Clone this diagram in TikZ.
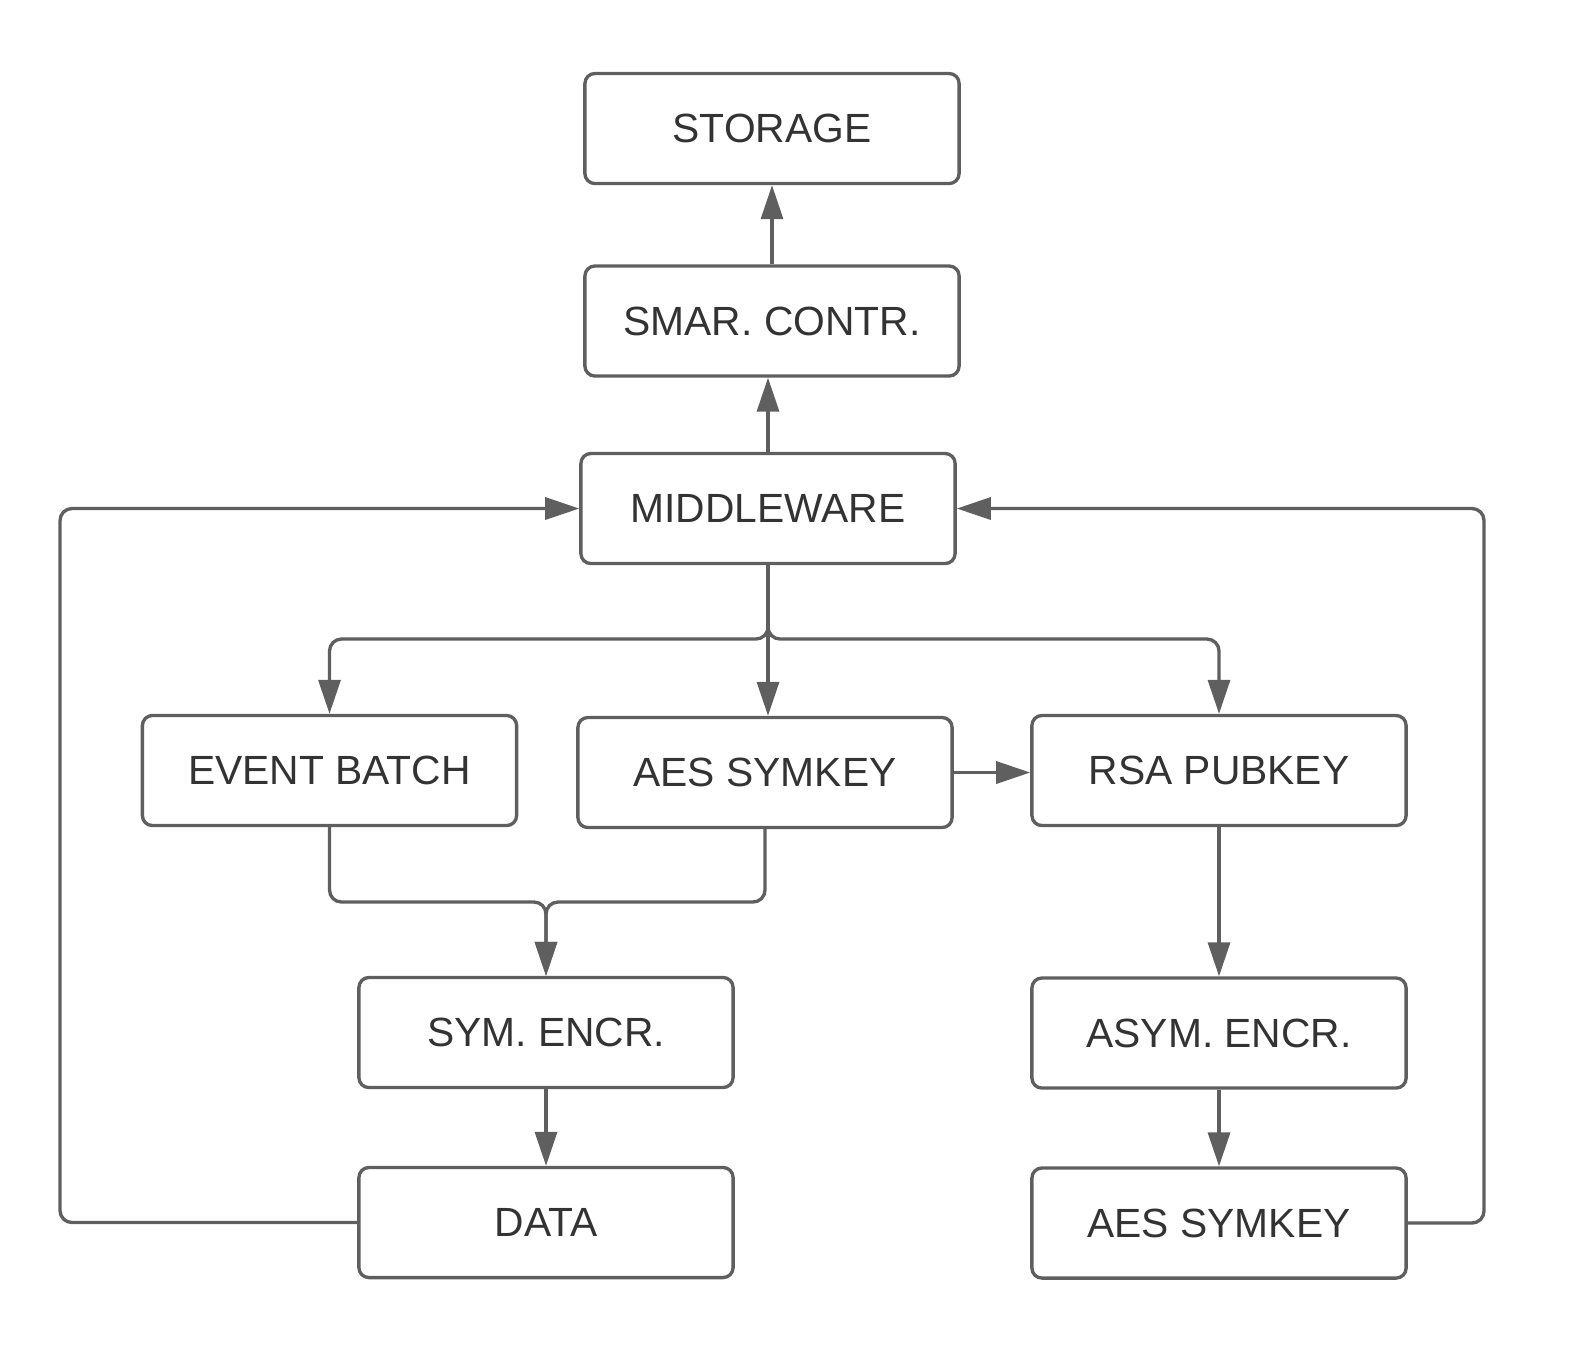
\documentclass[tikz,border=0pt]{standalone}
\usepackage{fontspec}
\setmainfont{Liberation Sans}
\usetikzlibrary{arrows.meta}
\definecolor{linegray}{HTML}{5F5F5F}
\definecolor{textgray}{HTML}{333333}
\begin{document}
\begin{tikzpicture}[x=0.01cm,y=-0.01cm]

        \useasboundingbox (0,0) rectangle (1577,1356);

        \begin{scope}[every node/.style={draw=linegray, line width=0.95pt, rounded corners=0.1cm,
            minimum width=3.74cm, minimum height=1.1cm, inner sep=0pt,
            text=textgray, font=\fontsize{11.6}{14}\selectfont}]
          \node (storage) at (772,128.5)  {STORAGE};
          \node (smar)    at (772,321)    {SMAR. CONTR.};
          \node (mw)      at (768,508.5)  {MIDDLEWARE};
          \node (eb)      at (329.5,770.5) {EVENT BATCH};
          \node (aes)     at (765,772.5)  {AES SYMKEY};
          \node (rsa)     at (1219,770.5) {RSA PUBKEY};
          \node (sym)     at (546,1032.5) {SYM. ENCR.};
          \node (asym)    at (1219,1033)  {ASYM. ENCR.};
          \node (data)    at (546,1222.5) {DATA};
          \node (aeskey)  at (1219,1223)  {AES SYMKEY};
        \end{scope}

        \coordinate (split) at (768,639);
        \coordinate (merge) at (546,902);
        \coordinate (lft)   at (60,508.5);
        \coordinate (rgt)   at (1484,508.5);

        \begin{scope}[draw=linegray, line width=0.95pt, rounded corners=0.12cm,
            -{Triangle[length=0.34cm,width=0.22cm]}]
          \draw (smar) -- (storage);
          \draw (mw.north) -- (mw.north |- smar.south);
          \draw (mw.south) -- (split) -| (eb.north);
          \draw (mw.south) -- (split) -| (rsa.north);
          \draw (mw.south) -- (mw.south |- aes.north);
          \draw (aes.east) -- (aes.east -| rsa.west);
          \draw (eb.south) |- (merge) -- (sym.north);
          \draw (aes.south) |- (merge) -- (sym.north);
          \draw (sym) -- (data);
          \draw (rsa) -- (asym);
          \draw (asym) -- (aeskey);
          \draw (data.west) -| (lft) -- (mw.west);
          \draw (aeskey.east) -| (rgt) -- (mw.east);
        \end{scope}

      \end{tikzpicture}
\end{document}
